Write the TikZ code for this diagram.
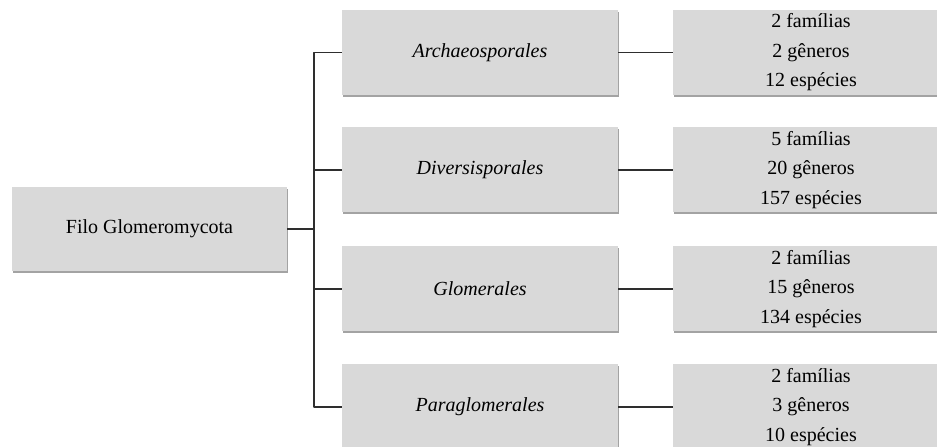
\documentclass[tikz,border=0pt]{standalone}
\usepackage{fontspec}
\setmainfont{Liberation Serif}
\usetikzlibrary{shadows}
\definecolor{boxgray}{HTML}{D9D9D9}
\definecolor{linegray}{HTML}{2E2E2E}

\begin{document}
\begin{tikzpicture}[x=1pt,y=1pt,line join=round,
  taxbox/.style={fill=boxgray,draw=none,minimum width=276pt,minimum height=85pt,
    inner sep=0pt,align=center,font=\fontsize{20}{29.5}\selectfont,
    drop shadow={shadow xshift=0.6pt,shadow yshift=-1.6pt,fill=black!45,opacity=0.8}},
  link/.style={draw=linegray,line width=1.3pt}]

  \useasboundingbox (0,0) rectangle (937,447);
  \clip (0,0) rectangle (937,447);

  % ---- phylum (root of the tree) ---------------------------------------
  \node[taxbox,minimum width=275pt,minimum height=84pt] (filo) at (149.5,218)
        {Filo Glomeromycota};
  \coordinate (split) at (314,218);

  % ---- the four orders, each with its counts box -----------------------
  \foreach \name/\ord/\fam/\gen/\spp/\y in {
      arch/Archaeosporales/2/2/12/394.5,
      div/Diversisporales/5/20/157/277,
      glom/Glomerales/2/15/134/158,
      para/Paraglomerales/2/3/10/40}{
     \node[taxbox] (\name) at (480,\y) {\textit{\ord}};
     \node[taxbox] (\name-n) at (811,\y)
        {\fam\ famílias\\ \gen\ gêneros\\ \spp\ espécies};
     \draw[link] (filo.east) -- (split) |- (\name.west);
     \draw[link] (\name.east) -- (\name-n.west);
  }

\end{tikzpicture}
\end{document}
